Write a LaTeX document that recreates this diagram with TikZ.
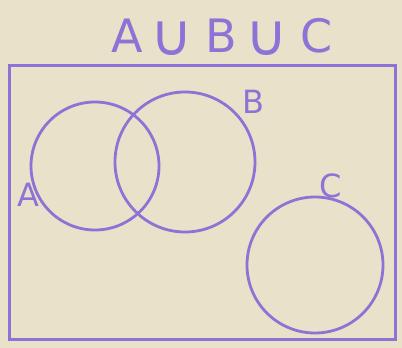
\documentclass[tikz,border=0pt]{standalone}
\usepackage{fontspec}
\setmainfont{DejaVu Sans}
\usetikzlibrary{positioning}
\definecolor{paper}{HTML}{EAE1CA}
\definecolor{ink}{HTML}{8C74D6}
\newcommand{\bigcupsym}{\raisebox{-3pt}{\fontsize{58}{58}\selectfont ∪}}

\begin{document}
\begin{tikzpicture}[x=1pt,y=-1pt,
  set/.style={draw=ink,line width=2.8pt,circle,inner sep=0pt},
  lbl/.style={text=ink,font=\fontsize{32}{34}\selectfont},
  ttl/.style={text=ink,font=\fontsize{46}{50}\selectfont}]
\fill[paper] (0,0) rectangle (402,348);
\useasboundingbox (0,0) rectangle (402,348);
\node[draw=ink,line width=3pt,minimum width=386pt,minimum height=274pt,inner sep=0pt] (univ) at (202,202) {};
\node[ttl] (title) at (222,37) {A\,\bigcupsym\;B\,\bigcupsym\;C};
\node[set,minimum size=128pt] (setA) at (95,166) {};
\node[set,minimum size=140pt] (setB) at (185,162) {};
\node[set,minimum size=136pt] (setC) at (315,265) {};
\node[lbl] (labA) at (28,195) {A};
\node[lbl] (labB) at (253,102) {B};
\node[lbl] (labC) at (331,186) {C};
\end{tikzpicture}
\end{document}
